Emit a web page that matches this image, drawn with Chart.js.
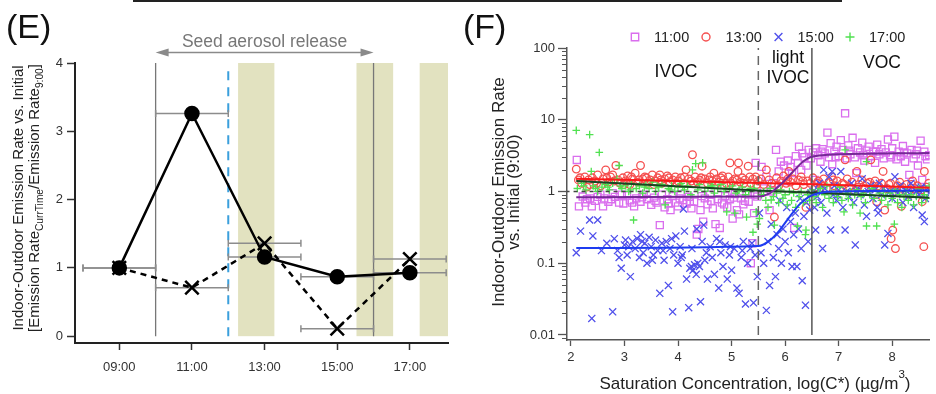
<!DOCTYPE html>
<html>
<head>
<meta charset="utf-8">
<script src="https://cdn.jsdelivr.net/npm/chart.js@4.4.1/dist/chart.umd.min.js"></script>
<style>
  html, body { margin: 0; padding: 0; background: #fff; }
  #wrap { position: relative; width: 936px; height: 394px; overflow: hidden; }
  #panelE { position: absolute; left: 0; top: 0; }
  #panelF { position: absolute; left: 460px; top: 0; }
  #topRule { position: absolute; left: 133px; top: 0; width: 709px; height: 2px; background: #222; }
</style>
</head>
<body>
<div id="wrap">
  <canvas id="panelE" width="460" height="394"></canvas>
  <canvas id="panelF" width="476" height="394"></canvas>
  <div id="topRule"></div>
</div>
<script>
var FONT = '"Liberation Sans", Arial, Helvetica, sans-serif';

//-------------
//- PANEL (E) data
//-------------
var hours = [9, 11, 13, 15, 17];
var hourLabels = ['09:00', '11:00', '13:00', '15:00', '17:00'];
var ratioDots = [1.0, 3.26, 1.16, 0.87, 0.93];
var ratioCrosses = [1.0, 0.71, 1.36, 0.11, 1.13];
var errFrom = [8, 10, 12, 14, 16];
var errTo = [10, 12, 14, 16, 18];
var yTicksE = [0, 1, 2, 3, 4];
var seedRelease = [10, 16];
var injection = 12;
var shadeFrom = [12.27, 15.53, 17.27];
var shadeTo = [13.27, 16.54, 18.3];

//-------------
//- PANEL (F) data  [log(C*), ratio]
//-------------
var satTicks = [2, 3, 4, 5, 6, 7, 8];
var decades = [0.01, 0.1, 1, 10, 100];
var decadeLabels = ['0.01', '0.1', '1', '10', '100'];
var classBounds = [5.5, 6.5];

var pts1100 = [
  [2.11,2.75],[2.15,0.62],[2.22,0.85],[2.3,0.78],[2.36,0.8],[2.39,0.62],[2.45,0.74],[2.55,0.9],[2.6,0.62],[2.62,0.8],
  [2.7,0.72],[2.78,0.95],[2.82,0.84],[2.9,0.7],[2.98,0.68],[3.05,0.88],[3.1,0.75],[3.18,0.62],[3.22,0.8],[3.3,0.72],
  [3.36,0.9],[3.42,0.78],[3.5,0.65],[3.55,0.82],[3.6,0.7],[3.66,0.34],[3.7,0.9],[3.75,0.6],[3.8,0.78],[3.86,0.55],
  [3.9,0.86],[3.95,0.7],[4.0,0.62],[4.05,0.92],[4.1,0.76],[4.16,0.68],[4.2,0.84],[4.25,0.58],[4.3,0.72],[4.35,0.25],
  [4.38,0.3],[4.42,0.55],[4.47,0.38],[4.5,0.8],[4.55,0.66],[4.6,0.9],[4.65,0.58],[4.7,0.35],[4.74,0.78],[4.78,0.31],
  [4.82,0.7],[4.88,0.86],[4.92,0.6],[4.97,0.78],[5.02,0.42],[5.06,0.92],[5.1,0.55],[5.14,0.48],[5.18,0.8],[5.22,0.66],
  [5.28,0.95],[5.32,0.72],[5.36,0.1],[5.39,0.19],[5.42,0.5],[5.45,2.5],[5.48,0.85],
  [2.27,0.7],[2.5,0.84],[2.75,0.78],[2.95,0.9],[3.14,0.7],[3.33,0.83],[3.58,0.74],[3.83,0.68],[4.03,0.8],[4.22,0.72],
  [4.44,0.86],[4.62,0.74],[4.86,0.66],[5.04,0.82],[5.25,0.74],[5.44,0.9],
  [5.56,2.2],[5.6,1.1],[5.65,1.6],[5.71,0.55],[5.74,1.0],[5.8,1.3],[5.83,3.8],[5.88,1.9],[5.92,2.6],[5.98,2.3],
  [6.02,1.4],[6.05,2.7],[6.1,2.2],[6.13,1.8],[6.17,0.31],[6.2,3.1],[6.24,2.5],[6.26,4.2],[6.3,2.0],[6.32,3.4],
  [6.36,3.0],[6.4,2.3],[6.44,3.8],[6.48,2.9],[6.52,3.5],[6.55,1.45],[6.58,4.0],[6.62,3.2],[6.66,2.6],[6.7,3.9],
  [6.74,3.4],[6.79,6.6],[6.82,3.0],[6.85,4.7],[6.88,2.4],[6.92,3.6],[6.96,4.2],[7.0,3.1],[7.04,5.2],[7.08,3.8],
  [7.12,12.3],[7.15,2.9],[7.18,4.4],[7.22,3.3],[7.26,5.6],[7.3,3.0],[7.33,1.8],[7.36,4.0],[7.4,3.5],[7.44,4.8],
  [7.48,2.7],[7.52,3.7],[7.56,4.2],[7.6,3.1],[7.64,3.6],[7.68,2.5],[7.72,4.5],[7.76,3.3],[7.8,3.9],[7.84,2.9],
  [7.88,3.5],[7.92,5.3],[7.96,3.2],[8.0,4.0],[8.04,5.8],[8.08,2.8],[8.12,3.6],[8.16,3.1],[8.2,4.3],[8.24,2.6],
  [8.28,3.4],[8.32,1.7],[8.36,3.8],[8.4,2.9],[8.44,3.3],[8.48,2.3],[8.53,5.1],[8.56,1.45],[8.6,3.6],[8.65,2.8],[8.69,3.2],
  [6.68,3.6],[6.94,3.0],[7.2,3.7],[7.46,3.2],[7.7,3.6],[7.98,3.0],[8.22,3.5],[8.46,3.7],[8.62,3.1]
];
var pts1300 = [
  [2.1,2.05],[2.14,1.45],[2.2,1.3],[2.26,1.6],[2.3,1.15],[2.35,1.25],[2.4,1.55],[2.45,1.4],[2.5,1.7],[2.56,1.2],
  [2.6,1.5],[2.65,2.0],[2.7,1.35],[2.74,1.6],[2.78,1.7],[2.84,2.3],[2.88,1.45],[2.92,1.3],[2.97,1.55],[3.02,1.4],
  [3.06,1.65],[3.1,1.25],[3.15,1.5],[3.2,1.8],[3.25,1.35],[3.3,2.3],[3.34,1.5],[3.38,1.6],[3.43,1.3],[3.48,1.45],
  [3.52,1.7],[3.57,1.4],[3.62,1.55],[3.66,1.7],[3.7,1.3],[3.75,1.5],[3.8,1.65],[3.85,1.35],[3.9,1.45],[3.95,1.6],
  [4.0,1.4],[4.05,1.55],[4.1,1.3],[4.15,2.0],[4.2,1.5],[4.25,1.4],[4.27,3.25],[4.32,1.6],[4.36,1.35],[4.4,1.45],
  [4.45,2.25],[4.5,1.5],[4.55,1.3],[4.6,1.6],[4.64,1.4],[4.67,1.8],[4.72,1.5],[4.76,1.35],[4.8,1.55],[4.85,1.45],
  [4.9,1.3],[4.94,1.6],[4.97,2.5],[5.02,1.4],[5.06,1.5],[5.12,1.9],[5.13,2.5],[5.16,1.35],[5.2,1.55],[5.25,1.45],
  [5.31,2.25],[5.36,1.3],[5.4,1.5],[5.45,1.6],[5.5,1.4],
  [2.17,1.55],[2.33,1.45],[2.48,1.3],[2.67,1.55],[2.81,1.4],[2.99,1.25],[3.13,1.6],[3.27,1.45],[3.41,1.55],[3.55,1.25],
  [3.68,1.45],[3.83,1.55],[3.98,1.3],[4.12,1.6],[4.29,1.3],[4.43,1.55],[4.58,1.45],[4.7,1.25],[4.83,1.65],[4.99,1.3],
  [5.1,1.45],[5.23,1.3],[5.34,1.6],[5.47,1.25],
  [5.55,1.5],[5.6,1.25],[5.65,2.0],[5.7,1.45],[5.75,1.3],[5.8,0.44],[5.84,1.55],[5.88,1.2],[5.92,1.4],[5.97,1.65],
  [6.02,1.3],[6.07,1.9],[6.1,1.35],[6.15,1.5],[6.2,1.2],[6.25,1.45],[6.3,1.6],[6.35,1.25],[6.39,0.6],[6.42,1.4],
  [6.47,1.3],[6.52,1.55],[6.57,1.15],[6.62,1.4],[6.67,1.25],[6.72,1.5],[6.77,1.1],[6.82,1.35],[6.87,1.6],[6.92,1.2],
  [6.97,1.4],[7.02,1.05],[7.07,1.3],[7.12,2.76],[7.16,1.5],[7.2,1.15],[7.25,1.35],[7.3,1.0],[7.34,1.9],[7.38,1.25],
  [7.43,1.45],[7.48,1.1],[7.53,1.3],[7.6,2.76],[7.64,1.2],[7.68,1.4],[7.71,0.72],[7.76,1.15],[7.8,1.3],[7.83,1.9],
  [7.86,0.55],[7.9,1.1],[7.94,1.25],[7.98,0.22],[8.01,0.29],[8.04,1.0],[8.06,0.16],[8.1,1.2],[8.14,1.35],[8.17,0.62],
  [8.22,1.05],[8.27,1.25],[8.32,0.9],[8.38,1.4],[8.42,1.1],[8.47,1.2],[8.52,0.95],[8.56,0.72],[8.59,0.17],[8.6,1.9],
  [8.64,1.15],[8.68,1.3],
  [6.05,1.5],[6.33,1.4],[6.6,1.3],[6.9,1.45],[7.1,1.25],[7.36,1.15],[7.58,1.35],[7.74,1.2],[7.97,1.3],[8.19,1.15],
  [8.36,1.25],[8.55,1.05]
];
var pts1500 = [
  [2.1,0.14],[2.18,0.28],[2.35,0.4],[2.39,0.017],[2.41,0.24],[2.5,0.4],[2.57,0.15],[2.78,0.021],[2.81,0.22],[2.87,0.15],
  [2.94,0.085],[3.0,0.18],[3.02,0.21],[3.05,0.13],[3.11,0.065],[3.15,0.2],[3.2,0.16],[3.24,0.22],[3.28,0.12],[3.3,0.25],
  [3.35,0.14],[3.38,0.19],[3.42,0.1],[3.46,0.23],[3.5,0.17],[3.54,0.13],[3.58,0.21],[3.62,0.15],[3.66,0.038],[3.7,0.19],
  [3.74,0.11],[3.78,0.2],[3.82,0.049],[3.85,0.16],[3.9,0.021],[3.92,0.13],[3.96,0.24],[4.0,0.1],[4.04,0.17],[4.08,0.13],
  [4.1,0.57],[4.12,0.28],[4.16,0.06],[4.2,0.024],[4.22,0.085],[4.25,0.09],[4.28,0.08],[4.31,0.095],[4.34,0.07],[4.35,0.3],
  [4.37,0.1],[4.4,0.09],[4.42,0.029],[4.45,0.2],[4.48,0.34],[4.5,0.11],[4.55,0.06],[4.6,0.17],[4.64,0.12],[4.68,0.07],
  [4.72,0.22],[4.76,0.045],[4.8,0.14],[4.84,0.09],[4.88,0.18],[4.92,0.06],[4.96,0.13],[5.0,0.08],[5.05,0.16],[5.1,0.045],
  [5.14,0.038],[5.18,0.12],[5.22,0.2],[5.26,0.027],[5.3,0.1],[5.35,0.16],[5.41,0.028],[5.44,0.13],[5.48,0.065],
  [2.67,0.19],[2.9,0.12],[3.08,0.17],[3.33,0.2],[3.52,0.11],[3.72,0.15],[3.88,0.22],[4.06,0.12],[4.26,0.16],[4.53,0.14],
  [4.78,0.2],[4.98,0.17],[5.2,0.15],[5.38,0.19],
  [5.52,0.5],[5.55,0.14],[5.6,0.1],[5.65,0.022],[5.68,0.2],[5.71,0.049],[5.74,0.35],[5.78,0.12],[5.82,0.065],[5.85,0.25],
  [5.88,0.16],[5.9,0.75],[5.93,0.1],[5.96,0.3],[6.0,0.2],[6.03,0.6],[6.06,0.14],[6.1,0.38],[6.13,0.09],[6.16,0.25],
  [6.19,0.5],[6.22,0.09],[6.25,0.3],[6.28,0.8],[6.3,0.16],[6.32,0.057],[6.35,0.45],[6.38,0.026],[6.4,0.7],[6.43,0.2],
  [6.46,0.55],[6.48,0.95],
  [6.52,1.0],[6.55,0.6],[6.57,0.29],[6.6,0.85],[6.64,1.3],[6.67,0.7],[6.7,0.16],[6.72,2.0],[6.74,1.1],[6.78,0.5],
  [6.82,1.6],[6.85,0.29],[6.88,1.9],[6.9,0.9],[6.92,1.2],[6.96,0.75],[7.0,1.05],[7.04,1.9],[7.08,0.6],[7.12,0.29],
  [7.15,1.0],[7.2,0.85],[7.24,1.3],[7.28,0.7],[7.31,0.18],[7.35,1.1],[7.4,0.9],[7.44,1.5],[7.48,0.65],[7.52,0.45],
  [7.55,1.0],[7.6,1.2],[7.64,0.8],[7.68,1.05],[7.72,0.6],[7.74,0.5],[7.76,1.3],[7.8,0.9],[7.84,1.1],[7.86,0.18],
  [7.92,0.26],[7.96,1.0],[8.0,0.8],[8.05,1.6],[8.1,0.95],[8.15,1.2],[8.2,0.7],[8.25,1.05],[8.3,0.85],[8.35,1.3],
  [8.4,0.6],[8.45,1.0],[8.5,0.9],[8.54,1.15],[8.56,0.47],[8.6,0.38],[8.62,0.8],[8.66,1.1],[8.69,0.95],
  [6.62,1.05],[6.98,0.9],[7.33,1.0],[7.66,1.1],[7.99,0.95],[8.28,1.0],[8.52,1.1]
];
var pts1700 = [
  [2.1,7.1],[2.12,1.1],[2.2,1.3],[2.28,1.05],[2.35,6.2],[2.38,1.9],[2.42,1.2],[2.5,1.0],[2.53,3.5],[2.58,1.15],
  [2.65,1.25],[2.72,1.05],[2.78,1.3],[2.86,1.5],[2.9,2.3],[2.95,1.1],[3.02,1.2],[3.08,1.0],[3.13,1.3],[3.17,0.4],
  [3.22,1.1],[3.28,1.2],[3.34,0.95],[3.4,1.25],[3.46,1.1],[3.52,1.35],[3.58,1.0],[3.64,1.15],[3.7,1.25],[3.76,0.65],
  [3.82,1.1],[3.88,1.2],[3.94,1.0],[4.0,1.15],[4.06,1.3],[4.12,1.05],[4.18,1.2],[4.24,0.9],[4.27,2.0],[4.33,2.45],
  [4.4,1.25],[4.46,2.5],[4.5,1.0],[4.56,1.15],[4.62,1.2],[4.68,0.95],[4.74,1.1],[4.8,1.25],[4.86,1.0],[4.91,0.52],
  [4.96,1.1],[5.02,1.2],[5.06,0.5],[5.08,0.95],[5.14,1.05],[5.2,1.15],[5.26,0.9],[5.28,0.44],[5.32,1.0],[5.4,0.27],
  [5.42,1.1],[5.46,0.52],[5.48,0.35],
  [2.24,1.2],[2.46,1.1],[2.69,1.15],[2.92,1.2],[3.11,1.05],[3.37,1.15],[3.61,1.2],[3.85,1.05],[4.09,1.15],[4.37,1.05],
  [4.65,1.2],[4.89,1.1],[5.11,1.0],[5.35,1.1],
  [5.52,0.42],[5.56,0.9],[5.6,1.0],[5.64,0.75],[5.68,0.6],[5.72,1.1],[5.74,0.76],[5.78,0.85],[5.8,0.34],[5.84,0.95],
  [5.88,0.7],[5.92,1.05],[5.96,0.8],[6.0,0.9],[6.04,0.65],[6.08,1.0],[6.12,0.75],[6.16,0.95],[6.2,0.6],[6.23,0.33],
  [6.26,0.85],[6.3,1.0],[6.34,0.7],[6.38,0.25],[6.39,0.29],[6.42,0.9],[6.46,0.75],[6.5,1.05],[6.54,0.85],[6.58,0.7],
  [6.62,0.95],[6.66,1.1],[6.7,0.6],[6.74,0.9],[6.78,1.2],[6.82,0.8],[6.86,0.95],[6.9,0.7],[6.94,1.0],[6.98,0.85],
  [7.02,1.15],[7.06,0.75],[7.1,0.52],[7.12,3.8],[7.14,0.95],[7.18,0.8],[7.22,1.0],[7.26,0.65],[7.3,0.9],[7.34,1.05],
  [7.4,0.5],[7.42,0.85],[7.46,0.95],[7.5,0.7],[7.52,2.6],[7.52,0.33],[7.58,0.9],[7.62,1.1],[7.66,0.8],[7.71,0.33],
  [7.76,0.95],[7.8,0.75],[7.84,1.0],[7.88,0.85],[7.92,0.65],[7.96,0.95],[8.0,0.8],[8.04,0.35],[8.06,1.05],[8.1,0.7],
  [8.14,0.9],[8.18,0.6],[8.22,0.85],[8.26,1.0],[8.3,0.75],[8.35,0.9],[8.4,0.65],[8.45,0.85],[8.5,1.1],[8.55,0.7],
  [8.6,0.9],[8.65,0.8],[8.69,1.2]
];

// fitted curves
var fit1100 = [[2.1,0.83],[5.5,0.85],[5.72,0.95],[5.96,1.34],[6.15,1.9],[6.33,2.6],[6.47,3.0],[6.7,3.2],[7.0,3.3],[8.7,3.44]];
var fit1300 = [[2.1,1.5],[6.5,1.26],[8.7,1.13]];
var fit1500 = [[2.1,0.163],[5.5,0.174],[5.72,0.21],[5.9,0.29],[6.09,0.45],[6.27,0.66],[6.45,0.85],[6.7,0.97],[7.0,1.0],[8.7,1.03]];
var fit1700 = [[2.1,1.4],[5.5,1.03],[8.7,0.82]];

//-------------
//- helpers
//-------------
function richText(ctx, parts, x, y, size, rotate, align) {
  ctx.save();
  ctx.translate(x, y);
  if (rotate) ctx.rotate(-Math.PI / 2);
  var total = 0;
  var widths = parts.map(function (p) {
    ctx.font = (p.s ? size * 0.68 : size) + 'px ' + FONT;
    var w = ctx.measureText(p.t).width;
    total += w;
    return w;
  });
  var cx = align === 'left' ? 0 : -total / 2;
  ctx.textAlign = 'left';
  ctx.textBaseline = 'alphabetic';
  parts.forEach(function (p, i) {
    ctx.font = (p.s ? size * 0.68 : size) + 'px ' + FONT;
    var dy = p.s === 'sub' ? size * 0.28 : (p.s === 'sup' ? -size * 0.62 : 0);
    ctx.fillText(p.t, cx, dy);
    cx += widths[i];
  });
  ctx.restore();
}

function segment(data, color, width, dash, order) {
  return { data: data, showLine: true, borderColor: color, borderWidth: width, borderDash: dash || [],
           pointRadius: 0, fill: false, order: order };
}

//-------------
//- PANEL (E)
//-------------
var panelEDecor = {
  id: 'panelEDecor',
  beforeDatasetsDraw: function (chart) {
    var ctx = chart.ctx, area = chart.chartArea, x = chart.scales.x, y = chart.scales.y;
    ctx.save();
    ctx.fillStyle = 'rgb(226,226,192)';
    for (var i = 0; i < shadeFrom.length; i++) {
      var l = x.getPixelForValue(shadeFrom[i]);
      var r = Math.min(x.getPixelForValue(shadeTo[i]), area.right);
      var t = y.getPixelForValue(4), b = y.getPixelForValue(0);
      ctx.fillRect(l, t, r - l, b - t);
    }
    ctx.restore();
  },
  afterDraw: function (chart) {
    var ctx = chart.ctx, x = chart.scales.x;
    ctx.save();
    // seed aerosol arrow
    var a1 = x.getPixelForValue(seedRelease[0]), a2 = x.getPixelForValue(seedRelease[1]), ay = 52.5;
    ctx.strokeStyle = '#8a8a8a';
    ctx.fillStyle = '#8a8a8a';
    ctx.lineWidth = 1.6;
    ctx.beginPath(); ctx.moveTo(a1 + 8, ay); ctx.lineTo(a2 - 8, ay); ctx.stroke();
    ctx.beginPath(); ctx.moveTo(a1, ay); ctx.lineTo(a1 + 13, ay - 4); ctx.lineTo(a1 + 13, ay + 4); ctx.closePath(); ctx.fill();
    ctx.beginPath(); ctx.moveTo(a2, ay); ctx.lineTo(a2 - 13, ay - 4); ctx.lineTo(a2 - 13, ay + 4); ctx.closePath(); ctx.fill();
    ctx.fillStyle = '#777';
    richText(ctx, [{ t: 'Seed aerosol release' }], (a1 + a2) / 2, 46.5, 17.5, false, 'center');

    // axis title with subscripts
    ctx.fillStyle = '#222';
    richText(ctx, [{ t: 'Indoor-Outdoor Emission Rate vs. Initial' }], 22.5, 198, 15, true, 'center');
    richText(ctx, [{ t: '[Emission Rate' }, { t: 'CurrTime', s: 'sub' }, { t: '/Emission Rate' },
                   { t: '9:00', s: 'sub' }, { t: ']' }], 38.5, 198, 15, true, 'center');

    // panel letter
    ctx.fillStyle = '#111';
    richText(ctx, [{ t: '(E)' }], 6, 38, 34, false, 'left');
    ctx.restore();
  }
};

var eSets = [];
eSets.push({ data: hours.map(function (h, i) { return [h, ratioDots[i]]; }), showLine: true,
  borderColor: '#000', borderWidth: 2.5, pointRadius: 6.5, pointBackgroundColor: '#000',
  pointBorderColor: '#000', order: 0 });
eSets.push({ data: hours.map(function (h, i) { return [h, ratioCrosses[i]]; }), showLine: true,
  borderColor: '#000', borderWidth: 2.5, borderDash: [6, 5], pointStyle: 'crossRot', pointRadius: 9.5,
  pointBorderWidth: 2.5, pointBorderColor: '#000', order: 1 });
[ratioDots, ratioCrosses].forEach(function (vals) {
  vals.forEach(function (v, i) {
    eSets.push({ data: [[errFrom[i], v], [errTo[i], v]], showLine: true, borderColor: '#8c8c8c',
      borderWidth: 1.5, pointStyle: 'line', pointRotation: 90, pointRadius: 3.5,
      pointBorderColor: '#8c8c8c', pointBorderWidth: 1.5, order: 2 });
  });
});
seedRelease.forEach(function (h) {
  eSets.push(segment([[h, 0], [h, 4]], '#777', 1.3, [], 3));
});
eSets.push(segment([[injection, 0], [injection, 3.9]], '#3a9fdc', 2, [9, 7], 3));

new Chart(document.getElementById('panelE').getContext('2d'), {
  type: 'scatter',
  data: { datasets: eSets },
  options: {
    responsive: false,
    animation: false,
    devicePixelRatio: 1,
    events: [],
    layout: { padding: { top: 63, right: 8, left: 0, bottom: 0 } },
    plugins: { legend: { display: false }, tooltip: { enabled: false } },
    scales: {
      x: {
        type: 'linear', min: 7.78, max: 18.05, bounds: 'data',
        afterBuildTicks: function (s) { s.ticks = hours.map(function (v) { return { value: v }; }); },
        afterFit: function (s) { s.height = 51; },
        ticks: { callback: function (v) { return hourLabels[hours.indexOf(v)]; }, autoSkip: false, maxRotation: 0,
                 font: { family: FONT, size: 13 }, color: '#333', padding: 10 },
        grid: { drawOnChartArea: false, drawTicks: true, tickLength: 7, color: '#333', tickWidth: 1.5 },
        border: { display: true, color: '#222', width: 2 }
      },
      y: {
        type: 'linear', min: -0.1, max: 4, bounds: 'data',
        afterBuildTicks: function (s) { s.ticks = yTicksE.map(function (v) { return { value: v }; }); },
        afterFit: function (s) { s.width = 75; },
        ticks: { callback: function (v) { return String(v); }, font: { family: FONT, size: 13 }, color: '#333', padding: 4 },
        grid: { drawOnChartArea: false, drawTicks: true, tickLength: 8, color: '#333', tickWidth: 1.5 },
        border: { display: true, color: '#222', width: 2 }
      }
    }
  },
  plugins: [panelEDecor]
});

//-------------
//- PANEL (F)
//-------------
var legendItems = [
  { label: '11:00', style: 'rect', radius: 5.2, color: 'rgb(218,110,238)', mx: 175, tx: 194 },
  { label: '13:00', style: 'circle', radius: 4, color: 'rgb(245,80,80)', mx: 246, tx: 265.5 },
  { label: '15:00', style: 'crossRot', radius: 5.5, color: 'rgb(80,80,235)', mx: 318.5, tx: 337.5 },
  { label: '17:00', style: 'cross', radius: 4.5, color: 'rgb(80,225,80)', mx: 390, tx: 409 }
];

var panelFDecor = {
  id: 'panelFDecor',
  afterDraw: function (chart) {
    var ctx = chart.ctx, y = chart.scales.y, area = chart.chartArea;
    ctx.save();
    // minor log ticks
    ctx.strokeStyle = '#555';
    ctx.lineWidth = 1;
    for (var d = -3; d <= 1; d++) {
      for (var m = 2; m <= 9; m++) {
        var v = m * Math.pow(10, d);
        if (v < y.min || v > y.max) continue;
        var py = Math.round(y.getPixelForValue(v)) + 0.5;
        ctx.beginPath(); ctx.moveTo(area.left - 5, py); ctx.lineTo(area.left, py); ctx.stroke();
      }
    }
    // legend
    legendItems.forEach(function (it) {
      ctx.strokeStyle = it.color;
      ctx.fillStyle = 'rgba(0,0,0,0)';
      ctx.lineWidth = 1.4;
      Chart.helpers.drawPoint(ctx, { pointStyle: it.style, radius: it.radius, rotation: 0, borderWidth: 1.4 }, it.mx, 37);
      ctx.fillStyle = '#222';
      richText(ctx, [{ t: it.label }], it.tx, 42, 14.5, false, 'left');
    });
    // volatility classes
    ctx.fillStyle = '#111';
    richText(ctx, [{ t: 'IVOC' }], 216, 77, 17.5, false, 'center');
    richText(ctx, [{ t: 'light' }], 328, 62.5, 17.5, false, 'center');
    richText(ctx, [{ t: 'IVOC' }], 328, 83, 17.5, false, 'center');
    richText(ctx, [{ t: 'VOC' }], 422, 68, 17.5, false, 'center');
    // axis titles
    ctx.fillStyle = '#222';
    richText(ctx, [{ t: 'Indoor-Outdoor Emission Rate' }], 43.5, 192, 17, true, 'center');
    richText(ctx, [{ t: 'vs. Initial (9:00)' }], 59, 192, 17, true, 'center');
    richText(ctx, [{ t: 'Saturation Concentration, log(C*) (\u00b5g/m' }, { t: '3', s: 'sup' }, { t: ')' }],
             295, 389, 17, false, 'center');
    // panel letter
    ctx.fillStyle = '#111';
    richText(ctx, [{ t: '(F)' }], 3, 38, 34, false, 'left');
    ctx.restore();
  }
};

function markers(data, style, radius, color, order) {
  return { data: data, showLine: false, pointStyle: style, pointRadius: radius, pointBorderColor: color,
           pointBackgroundColor: 'rgba(0,0,0,0)', pointBorderWidth: 1.3, order: order };
}
function fitLine(data, color, order) {
  return { data: data, showLine: true, borderColor: color, borderWidth: 2, pointRadius: 0,
           cubicInterpolationMode: 'monotone', order: order };
}

var fSets = [
  fitLine(fit1100, 'rgb(118,40,150)', 0),
  fitLine(fit1300, 'rgb(250,25,25)', 0),
  fitLine(fit1500, 'rgb(30,60,240)', 0),
  fitLine(fit1700, 'rgb(25,70,35)', 0),
  segment([[satTicks[0] - 0.1, 1], [8.7, 1]], '#444', 1.5, [4, 4], 1),
  segment([[classBounds[0], 0.01], [classBounds[0], 100]], '#666', 1.5, [9, 6], 1),
  segment([[classBounds[1], 0.01], [classBounds[1], 100]], '#555', 1.5, [], 1),
  markers(pts1700, 'cross', 3.8, 'rgb(80,225,80)', 2),
  markers(pts1500, 'crossRot', 5, 'rgb(80,80,235)', 3),
  markers(pts1300, 'circle', 3.8, 'rgb(245,80,80)', 4),
  markers(pts1100, 'rect', 5, 'rgb(218,110,238)', 5)
];

new Chart(document.getElementById('panelF').getContext('2d'), {
  type: 'scatter',
  data: { datasets: fSets },
  options: {
    responsive: false,
    animation: false,
    devicePixelRatio: 1,
    events: [],
    layout: { padding: { top: 48, right: 0, left: 0, bottom: 0 } },
    plugins: { legend: { display: false }, tooltip: { enabled: false } },
    scales: {
      x: {
        type: 'linear', min: 1.927, max: 8.7, bounds: 'data',
        afterBuildTicks: function (s) { s.ticks = satTicks.map(function (v) { return { value: v }; }); },
        afterFit: function (s) { s.height = 54; },
        ticks: { callback: function (v) { return String(v); }, autoSkip: false, maxRotation: 0,
                 font: { family: FONT, size: 13 }, color: '#333', padding: 4 },
        grid: { drawOnChartArea: false, drawTicks: true, tickLength: 6, color: '#555', tickWidth: 1.3 },
        border: { display: true, color: '#555', width: 1.5 }
      },
      y: {
        type: 'logarithmic', min: 0.0085, max: 100, bounds: 'data',
        afterBuildTicks: function (s) { s.ticks = decades.map(function (v) { return { value: v }; }); },
        afterFit: function (s) { s.width = 107; },
        ticks: { callback: function (v) { return decadeLabels[decades.indexOf(v)]; },
                 font: { family: FONT, size: 13 }, color: '#333', padding: 3 },
        grid: { drawOnChartArea: false, drawTicks: true, tickLength: 9, color: '#555', tickWidth: 1.3 },
        border: { display: true, color: '#555', width: 1.5 }
      }
    }
  },
  plugins: [panelFDecor]
});
</script>
</body>
</html>
